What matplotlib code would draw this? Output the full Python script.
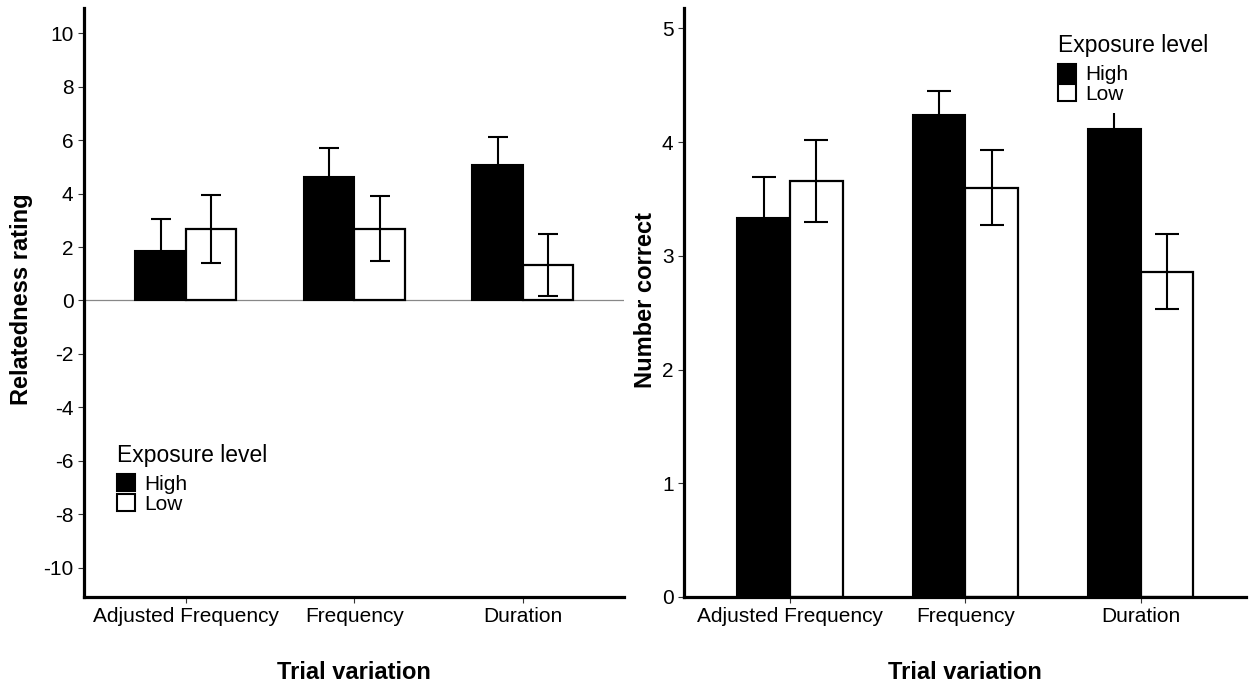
import numpy as np
import matplotlib
matplotlib.use('Agg')
from matplotlib import pyplot as plt
from matplotlib.patches import Patch

plt.rcParams['font.family'] = ['Liberation Sans', 'DejaVu Sans']
plt.rcParams['axes.unicode_minus'] = False

categories = ['Adjusted Frequency', 'Frequency', 'Duration']
levels = ['High', 'Low']

# relatedness rating (left)
rating_high = [1.84, 4.64, 5.07]
rating_high_se = [1.20, 1.08, 1.05]
rating_low = [2.68, 2.68, 1.32]
rating_low_se = [1.28, 1.22, 1.17]

# number correct (right)
correct_high = [3.33, 4.24, 4.12]
correct_high_se = [0.36, 0.21, 0.26]
correct_low = [3.66, 3.60, 2.86]
correct_low_se = [0.36, 0.33, 0.33]

W, H = 1249, 688
fig = plt.figure(figsize=(W / 100, H / 100), dpi=100)

ax1 = fig.add_axes([84 / W, 1 - 597 / H, 540 / W, 589 / H])
ax2 = fig.add_axes([684 / W, 1 - 597 / H, 562 / W, 589 / H])

x = np.arange(1, len(categories) + 1)
bw = 0.3


def panel(ax, high, high_se, low, low_se, capsize):
    ax.bar(x - bw / 2, high, bw, color='black', edgecolor='black', linewidth=1.5, zorder=2)
    ax.bar(x + bw / 2, low, bw, color='white', edgecolor='black', linewidth=1.6, zorder=2)
    ax.errorbar(x - bw / 2, high, yerr=high_se, fmt='none', ecolor='black',
                elinewidth=1.5, capsize=capsize, capthick=1.5, zorder=3)
    ax.errorbar(x + bw / 2, low, yerr=low_se, fmt='none', ecolor='black',
                elinewidth=1.5, capsize=capsize, capthick=1.5, zorder=3)
    ax.set_xticks(x)
    ax.set_xticklabels(categories)
    ax.set_xlim(0.395, 3.6)
    for s in ['top', 'right']:
        ax.spines[s].set_visible(False)
    for s in ['left', 'bottom']:
        ax.spines[s].set_linewidth(2.3)
    ax.tick_params(axis='both', labelsize=15, length=4, width=0.8,
                   color='#333333', labelcolor='black')
    ax.set_xlabel('Trial variation', fontsize=17, fontweight='bold', labelpad=25)


panel(ax1, rating_high, rating_high_se, rating_low, rating_low_se, 7)
ax1.axhline(0, color='#888888', lw=0.9, zorder=1)
ax1.set_ylim(-11.1, 10.95)
ax1.set_yticks(np.arange(-10, 11, 2))
ax1.set_ylabel('Relatedness rating', fontsize=17, fontweight='bold')
ax1.yaxis.set_label_coords(-0.094, 0.505)

panel(ax2, correct_high, correct_high_se, correct_low, correct_low_se, 8.5)
ax2.set_ylim(0, 5.18)
ax2.set_yticks(np.arange(0, 6, 1))
ax2.set_ylabel('Number correct', fontsize=17, fontweight='bold')
ax2.yaxis.set_label_coords(-0.048, 0.505)

handles = [Patch(facecolor='black', edgecolor='black', linewidth=1.5),
           Patch(facecolor='white', edgecolor='black', linewidth=1.5)]

leg_kw = dict(handlelength=0.85, handleheight=0.9, handletextpad=0.45,
              labelspacing=0.0, fontsize=15, title='Exposure level',
              title_fontsize=16.5, alignment='left', loc='upper left')

leg1 = fig.legend(handles, levels, bbox_to_anchor=(117 / W, 1 - 444 / H),
                  frameon=False, borderpad=0, borderaxespad=0, **leg_kw)
leg1._legend_box.sep = 5

leg2 = fig.legend(handles, levels, bbox_to_anchor=(1049 / W, 1 - 25 / H),
                  frameon=True, borderpad=0.45, borderaxespad=0, fancybox=False,
                  facecolor='white', edgecolor='none', framealpha=1, **leg_kw)
leg2._legend_box.sep = 5
leg2.set_zorder(10)

fig.savefig('out.png', dpi=100)
